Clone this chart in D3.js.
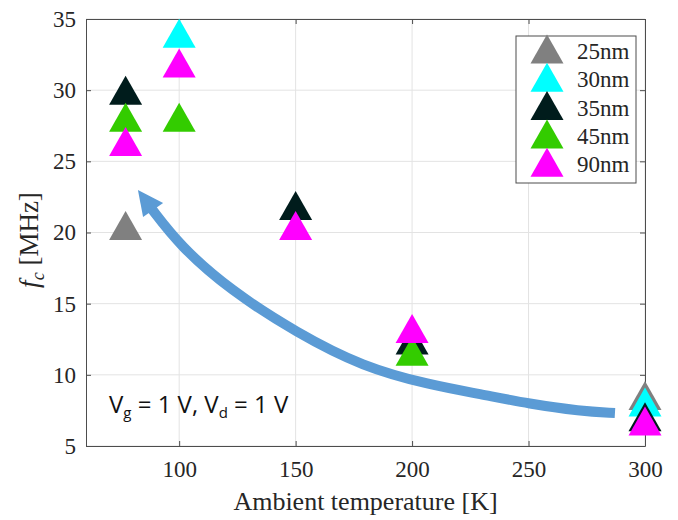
<!DOCTYPE html>
<html lang="en">
<head>
<meta charset="UTF-8">
<title>fc vs temperature</title>
<style>
    body { margin: 0; background: #fff; }
    svg { display: block; }
</style>
</head>
<body>
<script src="https://cdnjs.cloudflare.com/ajax/libs/d3/7.8.5/d3.min.js"></script>
<script>

let W = 678, H = 520
let margin = {left: 86, right: 33, top: 19, bottom: 74}

// ambient temperature [K]
let temps = [77, 100, 150, 200, 300]
// fc [MHz] per technology node, null = not shown
let f25 = [20.5, null, null, null, 8.55]
let f30 = [null, 34.0, null, null, 8.1]
let f35 = [30.0, null, 21.9, 12.45, 7.05]
let f45 = [28.1, 28.1, null, 11.65, null]
let f90 = [26.4, 31.9, 20.5, 13.25, 6.75]

let names = ["25nm", "30nm", "35nm", "45nm", "90nm"]
let colors = ["#808080", "#00ffff", "#001c1c", "#33cc00", "#ff00ff"]
let series = [f25, f30, f35, f45, f90]

let xTicks = [100, 150, 200, 250, 300]
let yTicks = [5, 10, 15, 20, 25, 30, 35]

// arrow guide (data coordinates), tail -> head
let arrowPts = [[287.1, 7.32], [272.1, 7.46], [250.6, 7.95], [229.2, 8.65], [207.7, 9.29],
    [178.9, 10.55], [150.6, 12.94], [121.8, 15.96], [100.4, 19.05], [87.8, 21.75]]
let arrowHead = [[82.3, 22.99], [93.1, 22.07], [84.5, 21.09]]

let svg = d3.select("body").append("svg")
    .attr("width", W)
    .attr("height", H)

let x = d3.scaleLinear().domain([60, 300]).range([margin.left, W - margin.right])
let y = d3.scaleLinear().domain([5, 35]).range([H - margin.bottom, margin.top])

let x0 = x.range()[0], x1 = x.range()[1]
let y0 = y.range()[0], y1 = y.range()[1]

let serif = "'Liberation Serif', 'DejaVu Serif', serif"

// grid
svg.append("g").selectAll("line").data(xTicks).join("line")
    .attr("x1", d => x(d)).attr("x2", d => x(d))
    .attr("y1", y0).attr("y2", y1)
    .attr("stroke", "#e3e3e3").attr("stroke-width", 1)
svg.append("g").selectAll("line").data(yTicks).join("line")
    .attr("x1", x0).attr("x2", x1)
    .attr("y1", d => y(d)).attr("y2", d => y(d))
    .attr("stroke", "#e3e3e3").attr("stroke-width", 1)

// axes (box with inward ticks)
let axisColor = "#4d4d4d"
let tickLen = 5
let axBottom = svg.append("g").attr("transform", `translate(0,${y0})`)
    .call(d3.axisBottom(x).tickValues(xTicks).tickSizeInner(-tickLen).tickSizeOuter(0).tickPadding(15))
let axTop = svg.append("g").attr("transform", `translate(0,${y1})`)
    .call(d3.axisTop(x).tickValues(xTicks).tickSizeInner(-tickLen).tickSizeOuter(0).tickFormat(""))
let axLeft = svg.append("g").attr("transform", `translate(${x0},0)`)
    .call(d3.axisLeft(y).tickValues(yTicks).tickSizeInner(-tickLen).tickSizeOuter(0).tickPadding(10))
let axRight = svg.append("g").attr("transform", `translate(${x1},0)`)
    .call(d3.axisRight(y).tickValues(yTicks).tickSizeInner(-tickLen).tickSizeOuter(0).tickFormat(""))

;[axBottom, axTop, axLeft, axRight].forEach(g => {
    g.select(".domain").attr("stroke", axisColor)
    g.selectAll(".tick line").attr("stroke", axisColor)
    g.selectAll("text")
        .attr("font-family", serif)
        .attr("font-size", 23)
        .attr("fill", "#262626")
})

// arrow
let line = d3.line().x(d => x(d[0])).y(d => y(d[1])).curve(d3.curveBasis)
svg.append("path")
    .attr("d", line(arrowPts))
    .attr("fill", "none")
    .attr("stroke", "#5b9bd5")
    .attr("stroke-width", 10)
svg.append("polygon")
    .attr("points", arrowHead.map(d => [x(d[0]), y(d[1])].join(",")).join(" "))
    .attr("fill", "#5b9bd5")

// markers
let tri = "M0,-14.5L16.5,14.5L-16.5,14.5Z"
series.forEach((vals, k) => {
    svg.append("g").selectAll("path")
        .data(temps.map((t, i) => [t, vals[i]]).filter(d => d[1] != null))
        .join("path")
        .attr("d", tri)
        .attr("transform", d => `translate(${x(d[0])},${y(d[1])})`)
        .attr("fill", colors[k])
})

// annotation
let ann = svg.append("text")
    .attr("x", 109).attr("y", 413)
    .attr("font-family", "'Open Sans', sans-serif")
    .attr("font-size", 24)
    .attr("fill", "#111")
ann.append("tspan").text("V")
ann.append("tspan").attr("font-size", 15).attr("dy", 5).text("g")
ann.append("tspan").attr("dy", -5).text(" = 1 V, V")
ann.append("tspan").attr("font-size", 15).attr("dy", 5).text("d")
ann.append("tspan").attr("dy", -5).text(" = 1 V")

// legend
let lg = svg.append("g")
lg.append("rect")
    .attr("x", 516).attr("y", 36).attr("width", 120).attr("height", 147)
    .attr("fill", "#fff").attr("stroke", axisColor).attr("stroke-width", 1)
names.forEach((n, i) => {
    let cy = 49 + i * 28.3
    lg.append("path").attr("d", tri)
        .attr("transform", `translate(547,${cy})`)
        .attr("fill", colors[i])
    lg.append("text")
        .attr("x", 577).attr("y", cy + 10)
        .attr("font-family", serif)
        .attr("font-size", 23)
        .attr("fill", "#262626")
        .text(n)
})

// axis labels
svg.append("text")
    .attr("x", (x0 + x1) / 2).attr("y", 510)
    .attr("text-anchor", "middle")
    .attr("font-family", serif)
    .attr("font-size", 26)
    .attr("fill", "#262626")
    .text("Ambient temperature [K]")

let yl = svg.append("text")
    .attr("transform", `translate(38,240) rotate(-90)`)
    .attr("text-anchor", "middle")
    .attr("font-family", serif)
    .attr("font-size", 27)
    .attr("fill", "#262626")
yl.append("tspan").attr("font-style", "italic").text("f")
yl.append("tspan").attr("font-style", "italic").attr("font-size", 18).attr("dy", 6).text("c")
yl.append("tspan").attr("dy", -6).text(" [MHz]")

</script>
</body>
</html>
